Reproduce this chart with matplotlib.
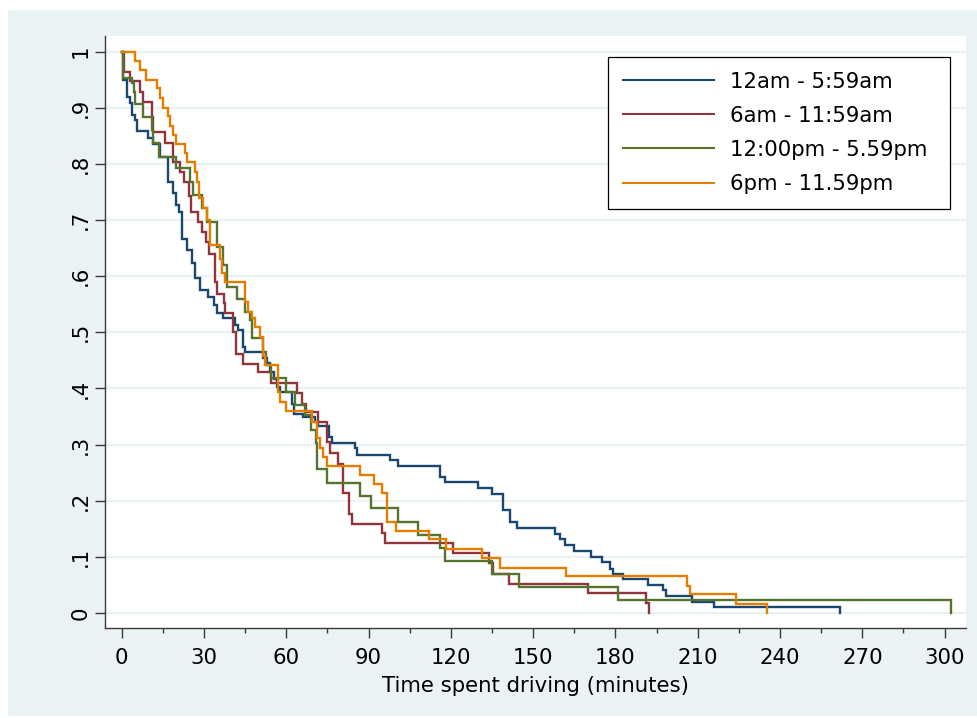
import matplotlib
matplotlib.use("Agg")
import matplotlib.pyplot as plt
from matplotlib.patches import Rectangle
from matplotlib.ticker import FixedLocator

# ---- data (Kaplan-Meier step estimates) ----
labels = ["12am - 5:59am", "6am - 11:59am", "12:00pm - 5.59pm", "6pm - 11.59pm"]

t_blue = [0, 0.5, 1.8, 3.0, 3.9, 4.9, 5.7, 9.7, 11.3, 14.0, 16.8, 18.6, 19.8, 21.0, 21.9, 23.9,
          25.5, 26.7, 28.5, 31.6, 33.5, 34.7, 36.9, 41.3, 42.5, 44.1, 44.8, 51.6, 52.8, 54.1, 55.5,
          56.5, 57.7, 62.0, 62.8, 66.2, 70.5, 71.7, 75.7, 76.5, 85.0, 85.9, 97.8, 100.8, 116.0,
          117.9, 130.0, 134.9, 138.9, 141.6, 144.0, 158.0, 159.8, 161.6, 165.0, 171.0, 175.0,
          178.0, 179.2, 182.9, 192.0, 197.5, 198.5, 207.8, 216.0, 262.0]
s_blue = [1.0, 0.95, 0.92, 0.908, 0.888, 0.878, 0.859, 0.846, 0.835, 0.813, 0.768, 0.748, 0.727,
          0.715, 0.667, 0.647, 0.623, 0.596, 0.575, 0.563, 0.548, 0.534, 0.525, 0.513, 0.504,
          0.474, 0.464, 0.455, 0.445, 0.430, 0.417, 0.403, 0.393, 0.373, 0.355, 0.349, 0.340,
          0.333, 0.314, 0.303, 0.293, 0.281, 0.272, 0.261, 0.242, 0.233, 0.222, 0.212, 0.183,
          0.162, 0.152, 0.140, 0.131, 0.121, 0.111, 0.100, 0.090, 0.079, 0.069, 0.060, 0.049,
          0.040, 0.030, 0.0196, 0.0096, 0.0]

t_red = [0, 1.0, 3.0, 6.7, 7.6, 10.9, 11.5, 15.8, 18.6, 21.3, 22.7, 24.7, 25.3, 27.7, 29.2, 30.7,
         31.9, 34.0, 34.9, 37.3, 37.7, 40.7, 41.5, 44.3, 49.7, 54.5, 64.0, 65.6, 67.0, 71.7, 74.7,
         75.9, 79.0, 80.8, 83.0, 83.8, 94.8, 96.0, 120.9, 134.0, 135.5, 141.3, 169.9, 191.0, 192.2]
s_red = [1.0, 0.964, 0.947, 0.929, 0.911, 0.884, 0.857, 0.838, 0.804, 0.786, 0.768, 0.742, 0.715,
         0.697, 0.679, 0.661, 0.640, 0.590, 0.569, 0.552, 0.535, 0.500, 0.462, 0.444, 0.430,
         0.410, 0.391, 0.373, 0.358, 0.340, 0.305, 0.285, 0.266, 0.213, 0.177, 0.159, 0.142,
         0.124, 0.106, 0.088, 0.070, 0.052, 0.036, 0.018, 0.0]

t_green = [0, 0.6, 3.9, 4.5, 4.9, 7.9, 10.9, 11.5, 13.7, 19.8, 24.9, 25.9, 29.2, 31.0, 34.9, 36.8,
           38.3, 42.2, 45.0, 46.8, 47.4, 51.6, 52.6, 54.4, 60.0, 63.0, 66.8, 68.9, 70.7, 71.3,
           74.7, 86.9, 90.8, 100.8, 107.9, 116.0, 117.9, 134.9, 144.8, 180.8, 302.2]
s_green = [1.0, 0.953, 0.944, 0.929, 0.907, 0.883, 0.860, 0.837, 0.813, 0.792, 0.768, 0.745, 0.721,
           0.697, 0.652, 0.620, 0.581, 0.559, 0.537, 0.522, 0.489, 0.465, 0.441, 0.419, 0.394,
           0.370, 0.352, 0.326, 0.302, 0.256, 0.232, 0.208, 0.186, 0.162, 0.139, 0.116, 0.092,
           0.070, 0.046, 0.0226, 0.0]

t_orange = [0, 4.9, 6.7, 8.9, 13.0, 14.0, 14.9, 16.8, 17.7, 18.6, 19.8, 23.1, 23.7, 26.7, 27.6,
            28.3, 29.7, 31.0, 32.0, 35.8, 36.6, 37.7, 44.9, 46.0, 47.4, 48.5, 50.4, 51.6, 52.2,
            56.9, 57.7, 59.9, 69.3, 71.1, 72.3, 73.5, 74.7, 86.9, 92.1, 94.8, 96.8, 99.9, 112.0,
            118.1, 131.2, 137.9, 162.0, 206.0, 207.0, 224.0, 235.1]
s_orange = [1.0, 0.983, 0.967, 0.949, 0.935, 0.917, 0.900, 0.885, 0.868, 0.851, 0.835, 0.819, 0.803,
            0.786, 0.768, 0.739, 0.721, 0.700, 0.655, 0.630, 0.606, 0.590, 0.554, 0.537, 0.525,
            0.509, 0.491, 0.458, 0.441, 0.394, 0.376, 0.360, 0.340, 0.311, 0.293, 0.278, 0.261,
            0.245, 0.229, 0.213, 0.162, 0.146, 0.131, 0.114, 0.098, 0.080, 0.065, 0.048, 0.033,
            0.0155, 0.0]

x_ticks = [0, 30, 60, 90, 120, 150, 180, 210, 240, 270, 300]
y_ticks = [0, 0.1, 0.2, 0.3, 0.4, 0.5, 0.6, 0.7, 0.8, 0.9, 1.0]
y_ticklabels = ["0", ".1", ".2", ".3", ".4", ".5", ".6", ".7", ".8", ".9", "1"]
x_title = "Time spent driving (minutes)"

# ---- styling ----
colors = ["#1A476F", "#90353B", "#55752F", "#E37E00"]
BG = "#EAF2F3"
FS = 15.3
plt.rcParams["font.family"] = ["DejaVu Sans"]

W, H = 978, 718
fig = plt.figure(figsize=(W / 100, H / 100), dpi=100, facecolor="white")
fig.patches.append(Rectangle((8 / W, 2 / H), 1 - 8 / W, 1 - 12 / H, transform=fig.transFigure,
                             facecolor=BG, edgecolor="none", zorder=-10))

ax = fig.add_axes([105 / W, 1 - 628 / H, (966 - 105) / W, (628 - 36) / H])
ax.set_facecolor("white")

series = [(t_blue, s_blue), (t_red, s_red), (t_green, s_green), (t_orange, s_orange)]
for (tt, ss), c, lab in zip(series, colors, labels):
    ax.step(tt, ss, where="post", color=c, lw=1.7, label=lab, solid_joinstyle="miter")

ax.set_xlim(-6.1, 307.8)
ax.set_ylim(-0.027, 1.028)

ax.set_xticks(x_ticks)
ax.xaxis.set_minor_locator(FixedLocator([v + 15 for v in x_ticks[:-1]]))
ax.set_yticks(y_ticks)
ax.set_yticklabels(y_ticklabels, rotation=90, va="center")

ax.yaxis.grid(True, color=BG, lw=1.6)
ax.set_axisbelow(True)
for s in ["top", "right"]:
    ax.spines[s].set_visible(False)
for s in ["left", "bottom"]:
    ax.spines[s].set_color("#3a3a3a")
    ax.spines[s].set_linewidth(1.0)

ax.tick_params(axis="both", which="major", length=7.2, width=1.0, color="#3a3a3a",
               labelsize=FS, labelcolor="black")
ax.tick_params(axis="x", which="major", pad=7.5)
ax.tick_params(axis="y", which="major", pad=3)
ax.tick_params(axis="x", which="minor", length=3.6, width=1.0, color="#3a3a3a")

ax.set_xlabel(x_title, fontsize=FS, labelpad=5.5)

leg = ax.legend(loc="upper left", bbox_to_anchor=(608 / W, 1 - 208 / H, 342 / W, 151 / H),
                bbox_transform=fig.transFigure, mode="expand", fontsize=FS, frameon=True,
                fancybox=False, framealpha=1, edgecolor="black", handlelength=4.3,
                handletextpad=0.75, labelspacing=0.66, borderpad=0.7, borderaxespad=0)
leg.get_frame().set_linewidth(0.9)
for h in leg.get_lines():
    h.set_linewidth(1.5)

fig.savefig("out.png", dpi=100, facecolor=fig.get_facecolor())
